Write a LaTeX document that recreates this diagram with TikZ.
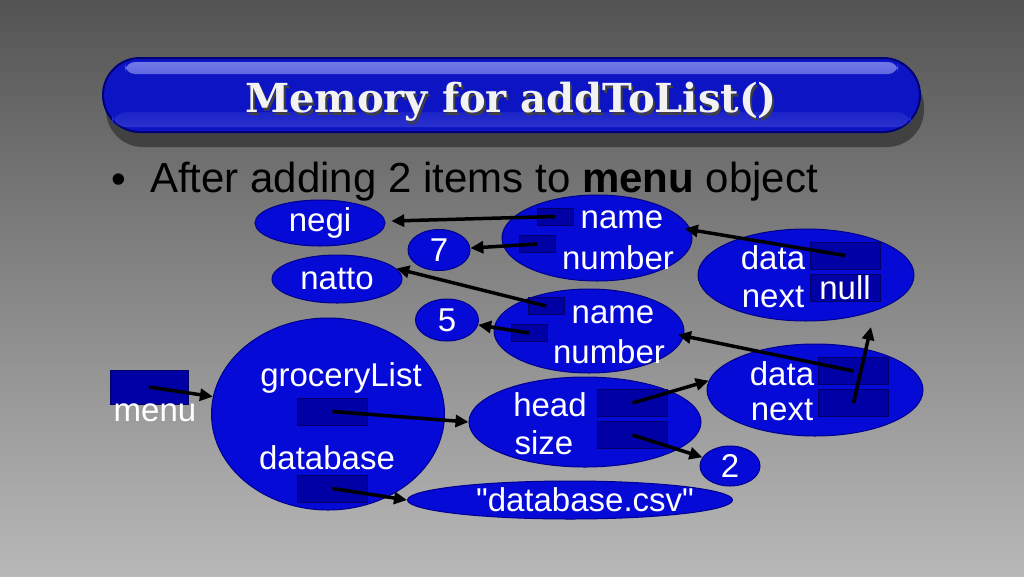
\documentclass[tikz,border=0pt]{standalone}
\usepackage{fontspec}
\setmainfont{Liberation Sans}
\newfontfamily\titlefont{DejaVu Serif}
\usetikzlibrary{shapes.geometric,arrows.meta}
\definecolor{bgtop}{RGB}{84,84,84}
\definecolor{bgbot}{RGB}{184,184,184}
\definecolor{ovalblue}{RGB}{5,10,215}
\definecolor{ovalline}{RGB}{0,0,140}
\definecolor{cellblue}{RGB}{0,0,165}
\definecolor{cellline}{RGB}{0,0,105}
\definecolor{barblue}{RGB}{12,20,195}
\definecolor{barline}{RGB}{0,0,120}
\definecolor{hiblue}{RGB}{110,120,230}
\tikzset{
  oval/.style={ellipse, fill=ovalblue, draw=ovalline, line width=1pt, inner sep=0pt, text=white, font=\fontsize{33}{35}\selectfont},
  cell/.style={rectangle, fill=cellblue, draw=cellline, line width=1pt, inner sep=0pt, minimum width=70pt, minimum height=27pt, text=white, font=\fontsize{33}{35}\selectfont},
  smallcell/.style={cell, minimum width=36pt, minimum height=17pt},
  lbl/.style={text=white, inner sep=0pt, font=\fontsize{33}{35}\selectfont},
  ptr/.style={-{Triangle[length=13pt,width=12pt]}, line width=3.5pt, black},
  titletext/.style={anchor=base, inner sep=0pt, font=\titlefont\bfseries\fontsize{40}{42}\selectfont},
}
\begin{document}
\begin{tikzpicture}[x=1pt, y=-1pt]
  \shade[top color=bgtop, bottom color=bgbot] (0,0) rectangle (1024,576);
  \useasboundingbox (0,0) rectangle (1024,576);
  % title bar
  \fill[black!80, opacity=.75, rounded corners=37pt] (106,70) rectangle (924,147);
  \fill[barblue, draw=barline, line width=2pt, rounded corners=37pt] (103,58) rectangle (920,132);
  \shade[top color=hiblue, bottom color=hiblue!85!barblue, rounded corners=10pt] (125,62) rectangle (898,74);
  \shade[top color=barblue!85!hiblue, bottom color=barblue!70!hiblue, rounded corners=14pt] (112,112) rectangle (911,127);
  \node[titletext, text=black!75] at (513,115) {Memory for addToList()};
  \node[titletext, text=black!5] (title) at (511,112) {Memory for addToList()};
  \node[font=\fontsize{42}{44}\selectfont, inner sep=0pt] (dot) at (119,184) {\textbullet};
  \node[anchor=base west, font=\fontsize{42}{44}\selectfont, inner sep=0pt] (bullet) at (150,192) {After adding 2 items to \textbf{menu} object};

  % objects
  \node[oval, minimum width=130pt, minimum height=46pt] (negi) at (320,223) {negi};
  \node[oval, minimum width=130pt, minimum height=48pt] (natto) at (337,279) {natto};
  \node[oval, minimum width=62pt, minimum height=41pt] (seven) at (439,250) {7};
  \node[oval, minimum width=63pt, minimum height=42pt] (five) at (447,320) {5};
  \node[oval, minimum width=190pt, minimum height=86pt] (item1) at (597,238) {};
  \node[oval, minimum width=190pt, minimum height=84pt] (item2) at (589,331) {};
  \node[oval, minimum width=216pt, minimum height=92pt] (node1) at (806,275) {};
  \node[oval, minimum width=216pt, minimum height=92pt] (node2) at (815,390) {};
  \node[oval, minimum width=233pt, minimum height=192pt] (glist) at (328,414) {};
  \node[oval, minimum width=232pt, minimum height=90pt] (lst) at (585,422) {};
  \node[oval, minimum width=325pt, minimum height=38pt] (csv) at (570,500) {};
  \node[oval, minimum width=60pt, minimum height=40pt] (two) at (730,466) {2};

  % fields
  \node[lbl] (nameA) at (622,220) {name};
  \node[lbl] (numA) at (618,258) {number};
  \node[lbl] (nameB) at (613,315) {name};
  \node[lbl] (numB) at (609,352) {number};
  \node[lbl] (dataA) at (773,258) {data};
  \node[lbl] (nextA) at (773,297) {next};
  \node[lbl] (dataB) at (782,374) {data};
  \node[lbl] (nextB) at (782,410) {next};
  \node[lbl] (gname) at (341,378) {groceryList};
  \node[lbl] (dname) at (327,458) {database};
  \node[lbl] (hname) at (550,405) {head};
  \node[lbl] (sname) at (544,443) {size};
  \node[lbl] (fname) at (585,500) {\textquotedbl database.csv\textquotedbl};

  \node[smallcell] (nm1) at (555,216.5) {};
  \node[smallcell] (nb1) at (537,244) {};
  \node[smallcell] (nm2) at (546,306) {};
  \node[smallcell] (nb2) at (529,333) {};
  \node[cell] (data1) at (845,255.5) {};
  \node[cell] (null) at (845,288) {null};
  \node[cell] (data2) at (853.5,371) {};
  \node[cell] (next2) at (853.5,403) {};
  \node[cell] (gcell) at (332.5,411.5) {};
  \node[cell] (dbcell) at (332.5,488.5) {};
  \node[cell] (headcell) at (632.5,403) {};
  \node[cell] (sizecell) at (632.5,435) {};
  \node[cell, minimum width=78pt, minimum height=34pt] (menubox) at (149,387) {};
  \node[lbl] (menu) at (155,413) {menu};
  \coordinate (nulltip) at (871,327);

  % pointers
  \draw[ptr, shorten >=6pt] (nm1.center) -- (negi);
  \draw[ptr] (nb1.center) -- (seven);
  \draw[ptr] (nm2.center) -- (natto.10);
  \draw[ptr] (nb2.center) -- (five);
  \draw[ptr, shorten >=-6pt] (data1.center) -- (item1.5);
  \draw[ptr, shorten >=-6pt] (data2.center) -- (item2.-3);
  \draw[ptr] (next2.center) -- (nulltip);
  \draw[ptr] (menubox.center) -- (glist);
  \draw[ptr] (gcell.center) -- (lst.west);
  \draw[ptr] (dbcell.center) -- (csv.west);
  \draw[ptr] (headcell.center) -- (node2.175);
  \draw[ptr] (sizecell.center) -- (two);
\end{tikzpicture}
\end{document}
